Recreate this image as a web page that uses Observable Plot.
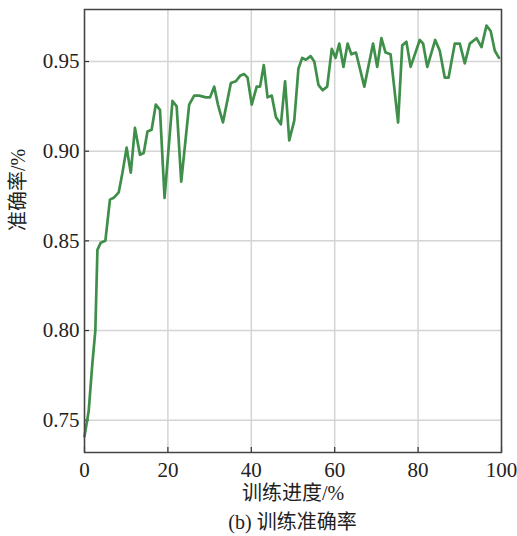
<!DOCTYPE html>
<html>
<head>
<meta charset="utf-8">
<script src="https://cdn.jsdelivr.net/npm/d3@7"></script>
<script src="https://cdn.jsdelivr.net/npm/@observablehq/plot@0.6"></script>
<style>
  body { margin: 0; background: #fff; }
  #caption { width: 517px; height: 28px; line-height: 28px; font-family: 'Liberation Serif', 'Noto Sans CJK SC', serif; font-size: 20px; color: #222; }
  #caption span { display: block; margin-left: 84px; width: 417px; text-align: center; }
</style>
</head>
<body>
<div id="chart"></div>
<div id="caption"><span>(b) 训练准确率</span></div>
<script>
const progress = [0, 1, 1.9, 2.6, 3.1, 3.9, 5, 6.1, 7, 8.2, 9.1, 10.1, 11.1, 12.1, 13.3, 14.2, 15.1, 16.1, 17.1, 18.1, 19.2, 21.1, 22.1, 23.2, 25.1, 26.3, 27.5, 29.1, 30.1, 31.1, 32, 33.2, 35.1, 36.3, 37.3, 38.3, 39.1, 40.1, 41.3, 42.1, 43, 43.9, 44.9, 45.9, 47.1, 48.1, 49.1, 50.3, 51.3, 52.2, 53.1, 54.2, 55.1, 56.1, 57.1, 58.2, 59.3, 60.2, 61.1, 62.1, 63.1, 64, 65.1, 67.1, 69.2, 70.2, 71.2, 72.2, 73.4, 75.2, 76.2, 77.2, 78.2, 80.4, 81.2, 82.2, 84.1, 85.2, 86.4, 87.3, 88.8, 90, 91.2, 92.4, 94, 95.2, 96.4, 97.4, 98.4, 99.4];
const accuracy = [0.741, 0.755, 0.782, 0.800, 0.845, 0.849, 0.850, 0.873, 0.874, 0.877, 0.888, 0.902, 0.888, 0.913, 0.898, 0.899, 0.911, 0.912, 0.926, 0.923, 0.874, 0.928, 0.925, 0.883, 0.926, 0.931, 0.931, 0.930, 0.930, 0.936, 0.926, 0.916, 0.938, 0.939, 0.942, 0.943, 0.941, 0.926, 0.936, 0.936, 0.948, 0.930, 0.931, 0.919, 0.915, 0.939, 0.906, 0.917, 0.946, 0.952, 0.951, 0.953, 0.950, 0.937, 0.934, 0.936, 0.957, 0.952, 0.960, 0.947, 0.960, 0.954, 0.955, 0.936, 0.960, 0.947, 0.963, 0.955, 0.954, 0.916, 0.959, 0.961, 0.947, 0.962, 0.960, 0.947, 0.962, 0.956, 0.941, 0.941, 0.960, 0.960, 0.949, 0.960, 0.963, 0.958, 0.970, 0.967, 0.956, 0.952];
const xTicks = [0, 20, 40, 60, 80, 100];
const yTicks = [0.75, 0.80, 0.85, 0.90, 0.95];
const xLabel = "训练进度/%";
const yLabel = "准确率/%";

const data = progress.map((p, i) => ({progress: p, accuracy: accuracy[i]}));

const W = 517, H = 508;
const mL = 84, mR = 16, mT = 9, mB = 56;
const pw = W - mL - mR, ph = H - mT - mB;
const font = "'Liberation Serif', 'Noto Sans CJK SC', serif";

const chart = Plot.plot({
  width: W, height: H,
  marginLeft: mL, marginRight: mR, marginTop: mT, marginBottom: mB,
  style: {fontFamily: font, fontSize: "20px", color: "#222", background: "#fff", overflow: "visible"},
  x: {domain: [0, 100]},
  y: {domain: [0.732, 0.979]},
  marks: [
    Plot.gridX(xTicks, {stroke: "#d4d4d4", strokeOpacity: 1, strokeWidth: 1.5}),
    Plot.gridY(yTicks, {stroke: "#d4d4d4", strokeOpacity: 1, strokeWidth: 1.5}),
    Plot.tickX(xTicks, {x: d => d, stroke: "#333", strokeWidth: 1.2, insetTop: ph - 5}),
    Plot.tickY(yTicks, {y: d => d, stroke: "#333", strokeWidth: 1.2, insetRight: pw - 5}),
    Plot.axisX(xTicks, {tickSize: 0, tickPadding: 10, fontSize: 21, label: null}),
    Plot.axisY(yTicks, {tickSize: 0, tickPadding: 5, fontSize: 21, label: null, tickFormat: d3.format(".2f")}),
    Plot.line(data, {x: "progress", y: "accuracy", stroke: "#3f8f4a", strokeWidth: 2.7, strokeLinejoin: "round"}),
    Plot.frame({stroke: "#444", strokeWidth: 1.5}),
    Plot.text([xLabel], {text: d => d, frameAnchor: "bottom", dy: 47, fontSize: 20, fill: "#222"}),
    Plot.text([yLabel], {text: d => d, frameAnchor: "left", dx: -66, rotate: -90, fontSize: 20, fill: "#222"})
  ]
});
document.getElementById("chart").appendChild(chart);
</script>
</body>
</html>
